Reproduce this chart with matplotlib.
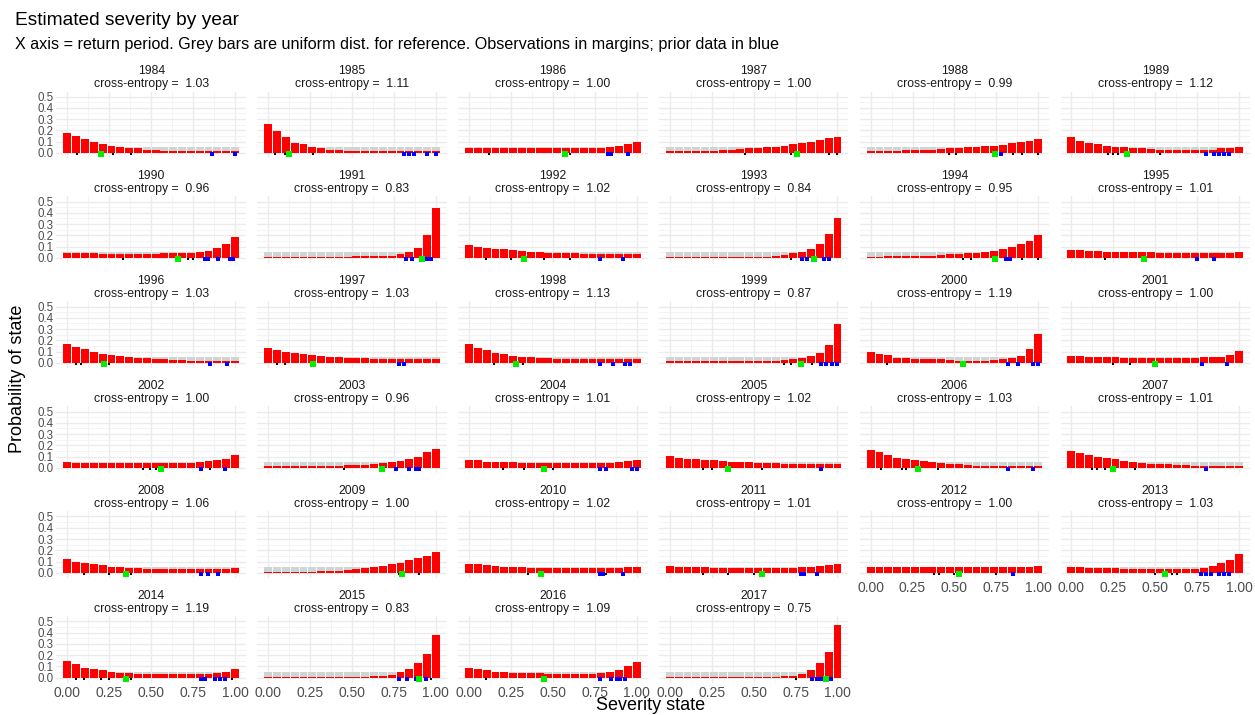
import numpy as np
import matplotlib.pyplot as plt

plt.rcParams['font.family'] = ['Liberation Sans', 'DejaVu Sans']

years = list(range(1984, 2018))
cross_entropy = [1.03, 1.11, 1.00, 1.00, 0.99, 1.12,
                 0.96, 0.83, 1.02, 0.84, 0.95, 1.01,
                 1.03, 1.03, 1.13, 0.87, 1.19, 1.00,
                 1.00, 0.96, 1.01, 1.02, 1.03, 1.01,
                 1.06, 1.00, 1.02, 1.01, 1.00, 1.03,
                 1.19, 0.83, 1.09, 0.75]

# 20 severity states between 0 and 1
states = np.linspace(0, 1, 20)
uniform = 1 / 20

probs = [
    [0.18, 0.15, 0.12, 0.10, 0.08, 0.065, 0.05, 0.045, 0.04, 0.03, 0.025, 0.02, 0.015, 0.015, 0.015, 0.015, 0.015, 0.02, 0.02, 0.02],  # 1984
    [0.26, 0.19, 0.14, 0.09, 0.075, 0.055, 0.04, 0.03, 0.025, 0.02, 0.015, 0.015, 0.015, 0.015, 0.015, 0.015, 0.015, 0.02, 0.02, 0.02],  # 1985
    [0.045, 0.045, 0.04, 0.04, 0.04, 0.04, 0.04, 0.04, 0.04, 0.04, 0.04, 0.04, 0.04, 0.04, 0.04, 0.045, 0.05, 0.065, 0.08, 0.10],  # 1986
    [0.02, 0.02, 0.02, 0.02, 0.02, 0.02, 0.025, 0.03, 0.035, 0.04, 0.045, 0.05, 0.055, 0.065, 0.075, 0.085, 0.10, 0.115, 0.13, 0.145],  # 1987
    [0.02, 0.02, 0.02, 0.02, 0.025, 0.025, 0.03, 0.03, 0.035, 0.04, 0.045, 0.05, 0.055, 0.06, 0.065, 0.07, 0.09, 0.10, 0.105, 0.125],  # 1988
    [0.14, 0.11, 0.09, 0.08, 0.065, 0.055, 0.05, 0.045, 0.04, 0.035, 0.03, 0.03, 0.03, 0.025, 0.025, 0.03, 0.03, 0.04, 0.045, 0.055],  # 1989
    [0.04, 0.04, 0.04, 0.04, 0.035, 0.035, 0.035, 0.035, 0.035, 0.035, 0.035, 0.04, 0.04, 0.04, 0.045, 0.05, 0.06, 0.09, 0.125, 0.185],  # 1990
    [0.005, 0.005, 0.005, 0.005, 0.01, 0.01, 0.01, 0.01, 0.01, 0.01, 0.015, 0.015, 0.015, 0.015, 0.02, 0.03, 0.05, 0.085, 0.20, 0.445],  # 1991
    [0.11, 0.10, 0.085, 0.08, 0.075, 0.07, 0.06, 0.055, 0.05, 0.045, 0.045, 0.045, 0.04, 0.035, 0.035, 0.035, 0.035, 0.035, 0.035, 0.035],  # 1992
    [0.005, 0.005, 0.005, 0.005, 0.005, 0.005, 0.005, 0.005, 0.005, 0.005, 0.005, 0.01, 0.015, 0.025, 0.04, 0.055, 0.08, 0.125, 0.21, 0.355],  # 1993
    [0.01, 0.01, 0.015, 0.015, 0.015, 0.015, 0.02, 0.02, 0.025, 0.03, 0.035, 0.04, 0.045, 0.055, 0.065, 0.08, 0.10, 0.12, 0.15, 0.205],  # 1994
    [0.07, 0.07, 0.06, 0.06, 0.055, 0.05, 0.05, 0.05, 0.05, 0.05, 0.045, 0.045, 0.045, 0.045, 0.045, 0.045, 0.045, 0.045, 0.045, 0.05],  # 1995
    [0.17, 0.14, 0.12, 0.10, 0.08, 0.07, 0.06, 0.05, 0.045, 0.04, 0.035, 0.03, 0.025, 0.025, 0.02, 0.02, 0.02, 0.02, 0.02, 0.02],  # 1996
    [0.13, 0.11, 0.095, 0.085, 0.075, 0.07, 0.06, 0.055, 0.05, 0.045, 0.04, 0.04, 0.035, 0.035, 0.035, 0.035, 0.035, 0.035, 0.035, 0.035],  # 1997
    [0.17, 0.13, 0.11, 0.09, 0.08, 0.065, 0.055, 0.05, 0.045, 0.04, 0.035, 0.035, 0.03, 0.03, 0.03, 0.03, 0.03, 0.03, 0.03, 0.035],  # 1998
    [0.02, 0.02, 0.02, 0.02, 0.02, 0.02, 0.02, 0.02, 0.02, 0.02, 0.02, 0.02, 0.02, 0.025, 0.03, 0.045, 0.065, 0.09, 0.16, 0.345],  # 1999
    [0.10, 0.08, 0.07, 0.045, 0.04, 0.035, 0.03, 0.03, 0.03, 0.025, 0.02, 0.02, 0.02, 0.02, 0.025, 0.035, 0.045, 0.065, 0.12, 0.26],  # 2000
    [0.06, 0.06, 0.05, 0.05, 0.05, 0.05, 0.045, 0.045, 0.045, 0.045, 0.045, 0.045, 0.045, 0.045, 0.045, 0.05, 0.05, 0.05, 0.07, 0.105],  # 2001
    [0.05, 0.045, 0.045, 0.045, 0.045, 0.045, 0.045, 0.045, 0.045, 0.045, 0.04, 0.04, 0.045, 0.045, 0.045, 0.05, 0.06, 0.065, 0.08, 0.11],  # 2002
    [0.02, 0.02, 0.02, 0.02, 0.02, 0.02, 0.02, 0.02, 0.02, 0.025, 0.025, 0.025, 0.03, 0.04, 0.05, 0.06, 0.075, 0.10, 0.14, 0.17],  # 2003
    [0.065, 0.065, 0.055, 0.055, 0.05, 0.05, 0.045, 0.045, 0.04, 0.04, 0.04, 0.04, 0.04, 0.04, 0.04, 0.045, 0.045, 0.055, 0.06, 0.07],  # 2004
    [0.105, 0.09, 0.08, 0.075, 0.07, 0.065, 0.06, 0.055, 0.055, 0.05, 0.045, 0.045, 0.04, 0.035, 0.035, 0.035, 0.035, 0.035, 0.035, 0.035],  # 2005
    [0.16, 0.14, 0.11, 0.09, 0.08, 0.07, 0.06, 0.05, 0.04, 0.035, 0.03, 0.025, 0.02, 0.02, 0.02, 0.02, 0.015, 0.015, 0.015, 0.015],  # 2006
    [0.15, 0.13, 0.11, 0.095, 0.085, 0.075, 0.06, 0.05, 0.04, 0.035, 0.03, 0.03, 0.025, 0.025, 0.02, 0.02, 0.02, 0.02, 0.015, 0.015],  # 2007
    [0.125, 0.10, 0.09, 0.075, 0.065, 0.055, 0.05, 0.045, 0.04, 0.035, 0.035, 0.03, 0.03, 0.03, 0.03, 0.03, 0.03, 0.03, 0.03, 0.04],  # 2008
    [0.01, 0.01, 0.01, 0.01, 0.01, 0.01, 0.015, 0.015, 0.02, 0.025, 0.03, 0.04, 0.05, 0.06, 0.075, 0.09, 0.11, 0.13, 0.15, 0.185],  # 2009
    [0.075, 0.075, 0.065, 0.06, 0.055, 0.05, 0.05, 0.045, 0.045, 0.04, 0.04, 0.04, 0.04, 0.04, 0.04, 0.04, 0.045, 0.045, 0.05, 0.05],  # 2010
    [0.06, 0.055, 0.055, 0.05, 0.05, 0.045, 0.045, 0.04, 0.04, 0.04, 0.04, 0.04, 0.04, 0.04, 0.045, 0.05, 0.055, 0.06, 0.065, 0.075],  # 2011
    [0.05, 0.05, 0.05, 0.05, 0.05, 0.05, 0.05, 0.05, 0.05, 0.05, 0.05, 0.05, 0.05, 0.05, 0.05, 0.05, 0.05, 0.05, 0.055, 0.06],  # 2012
    [0.05, 0.05, 0.045, 0.045, 0.04, 0.04, 0.035, 0.035, 0.03, 0.03, 0.03, 0.03, 0.03, 0.03, 0.035, 0.04, 0.06, 0.085, 0.115, 0.165],  # 2013
    [0.15, 0.125, 0.09, 0.075, 0.065, 0.05, 0.045, 0.04, 0.035, 0.035, 0.03, 0.03, 0.03, 0.03, 0.03, 0.03, 0.035, 0.045, 0.05, 0.075],  # 2014
    [0.005, 0.005, 0.005, 0.005, 0.005, 0.005, 0.005, 0.005, 0.005, 0.01, 0.01, 0.01, 0.015, 0.015, 0.025, 0.05, 0.08, 0.13, 0.215, 0.38],  # 2015
    [0.09, 0.075, 0.065, 0.055, 0.05, 0.045, 0.045, 0.04, 0.04, 0.035, 0.03, 0.03, 0.03, 0.03, 0.035, 0.04, 0.05, 0.07, 0.10, 0.14],  # 2016
    [0.005, 0.005, 0.005, 0.005, 0.005, 0.005, 0.005, 0.005, 0.005, 0.005, 0.005, 0.005, 0.01, 0.015, 0.02, 0.035, 0.065, 0.13, 0.23, 0.47],  # 2017
]

# observations in the margins (severity state of each event)
obs_black = [
    [0.06, 0.27, 0.38], [0.04, 0.10, 0.27], [0.12, 0.60], [0.45, 0.72, 0.95, 1.0],
    [0.47, 0.51, 0.85, 0.90, 1.0], [0.22, 0.25, 0.28, 0.53],
    [0.33, 0.72, 0.75], [], [0.10, 0.25, 0.45, 0.60], [0.72], [0.55, 0.60, 0.90, 1.0], [0.20],
    [0.05, 0.08, 0.25], [0.05, 0.10], [0.15, 0.32], [0.68, 0.72, 0.85], [0.10], [0.25, 0.35],
    [0.45, 0.49, 0.53, 0.85], [0.45], [0.20, 0.33, 0.50], [0.20, 0.25, 0.55], [0.06, 0.19, 0.21, 0.40], [0.12, 0.15, 0.20, 0.38],
    [0.10, 0.25, 0.38], [0.78, 0.90], [0.35, 0.82], [0.20, 0.35, 0.50], [0.38, 0.41, 0.50, 0.75], [0.50, 0.60, 0.63],
    [0.05, 0.10, 0.20, 0.25, 0.38, 0.98], [0.97], [0.10], [0.75],
]
obs_green = [0.20, 0.125, 0.57, 0.76, 0.74, 0.33,
             0.66, 0.92, 0.33, 0.86, 0.74, 0.43,
             0.22, 0.27, 0.28, 0.78, 0.55, 0.50,
             0.56, 0.68, 0.45, 0.35, 0.28, 0.25,
             0.35, 0.80, 0.43, 0.55, 0.53, 0.56,
             0.35, 0.90, 0.45, 0.93]
obs_blue = [
    [0.86, 1.0], [0.81, 0.84, 0.87, 0.95, 1.0], [0.83, 0.85, 0.95], [], [0.78], [0.80, 0.85, 0.88, 0.91, 0.94],
    [0.82, 0.84, 0.90, 0.97, 0.99], [0.82, 0.86, 0.95, 0.97], [0.78, 0.92], [0.79, 0.82, 0.92, 0.95], [0.81, 0.83], [0.75, 0.85],
    [0.85, 0.95], [0.78, 0.81], [0.78, 0.86, 0.93, 0.96], [0.90, 0.93, 0.97, 1.0], [0.82, 0.88, 0.97, 1.0], [0.78, 0.93],
    [0.80, 0.94], [0.76, 0.84, 0.88, 0.90], [0.78, 0.82, 0.97, 1.0], [0.90], [0.82, 0.97], [0.80],
    [0.80, 0.84, 0.90], [], [0.78, 0.80, 0.92], [0.78, 0.80, 0.88], [0.85], [0.77, 0.80, 0.83, 0.88, 0.91, 0.94],
    [0.80, 0.82, 0.88, 0.91, 0.94], [0.78, 0.83, 0.88, 0.94], [0.78, 0.85, 0.88, 0.90, 0.93], [0.85, 0.88, 0.90, 0.96],
]

fig, axs = plt.subplots(nrows=6, ncols=6, figsize=(12.55, 7.15), dpi=100)
fig.subplots_adjust(left=0.045, right=0.996, top=0.872, bottom=0.045, wspace=0.06, hspace=0.58)

n_cols = 6
for i, year in enumerate(years):
    ax = axs[i // n_cols, i % n_cols]
    ax.bar(states, [uniform] * len(states), width=0.047, color='#cdd5d5', zorder=2)
    ax.bar(states, probs[i], width=0.047, color='#ff0000', zorder=3)
    ax.scatter(obs_black[i], [-0.012] * len(obs_black[i]), s=4, marker='s', color='black', zorder=4, linewidths=0)
    ax.scatter(obs_blue[i], [-0.012] * len(obs_blue[i]), s=8, marker='s', color='#0000ff', zorder=4, linewidths=0)
    ax.scatter([obs_green[i]], [-0.012], s=14, marker='s', color='#00ee00', zorder=5, linewidths=0)
    ax.set_title(f'{year}\ncross-entropy =  {cross_entropy[i]:.2f}', fontsize=8.8, color='#1a1a1a',
                 pad=3, linespacing=1.15)

# empty cells of the facet grid
axs[5, 4].axis('off')
axs[5, 5].axis('off')

for r in range(6):
    for c in range(6):
        ax = axs[r, c]
        if r == 5 and c >= 4:
            continue
        ax.set_xlim(-0.065, 1.065)
        ax.set_ylim(-0.045, 0.545)
        ax.set_xticks([0, 0.25, 0.5, 0.75, 1.0])
        ax.set_xticks([0.125, 0.375, 0.625, 0.875], minor=True)
        ax.set_yticks([0, 0.1, 0.2, 0.3, 0.4, 0.5])
        ax.set_yticks([0.05, 0.15, 0.25, 0.35, 0.45], minor=True)
        ax.grid(True, which='major', color='#ebebeb', linewidth=1.0, zorder=0)
        ax.grid(True, which='minor', color='#f2f2f2', linewidth=0.6, zorder=0)
        ax.set_axisbelow(True)
        for s in ax.spines.values():
            s.set_visible(False)
        ax.tick_params(which='both', length=0, labelcolor='#4d4d4d', pad=2)
        ax.tick_params(axis='x', labelsize=10)
        ax.tick_params(axis='y', labelsize=8.3)
        bottom_row = (r == 5) or (r == 4 and c >= 4)
        if bottom_row:
            ax.set_xticklabels(['0.00', '0.25', '0.50', '0.75', '1.00'])
        else:
            ax.set_xticklabels([])
        if c == 0:
            ax.set_yticklabels(['0.0', '0.1', '0.2', '0.3', '0.4', '0.5'])
        else:
            ax.set_yticklabels([])

fig.text(0.012, 0.972, 'Estimated severity by year', fontsize=13.8, ha='left', va='center')
fig.text(0.012, 0.938, 'X axis = return period. Grey bars are uniform dist. for reference. '
         'Observations in margins; prior data in blue', fontsize=11.6, ha='left', va='center')
fig.text(0.518, 0.013, 'Severity state', fontsize=13, ha='center', va='center')
fig.text(0.014, 0.47, 'Probability of state', fontsize=13, ha='center', va='center', rotation=90)

fig.savefig('out.png', dpi=100)
